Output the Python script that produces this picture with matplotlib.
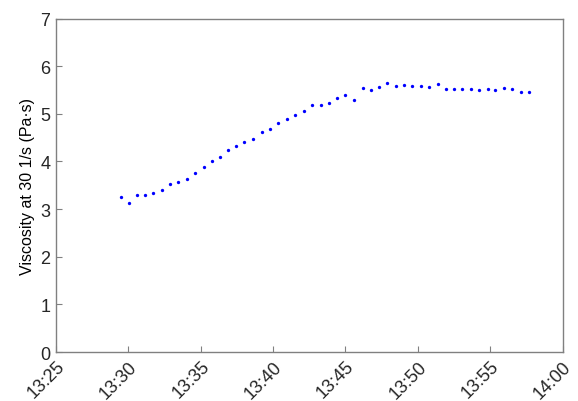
import matplotlib
matplotlib.use("Agg")
import matplotlib.pyplot as plt
import matplotlib.dates as mdates
from datetime import datetime

times = ["13:29:28", "13:30:03", "13:30:36", "13:31:10", "13:31:43", "13:32:18",
         "13:32:51", "13:33:26", "13:34:03", "13:34:38", "13:35:12", "13:35:46",
         "13:36:20", "13:36:53", "13:37:28", "13:38:01", "13:38:38", "13:39:13",
         "13:39:47", "13:40:22", "13:40:57", "13:41:32", "13:42:07", "13:42:42",
         "13:43:18", "13:43:52", "13:44:25", "13:45:00", "13:45:36", "13:46:11",
         "13:46:45", "13:47:19", "13:47:54", "13:48:29", "13:49:04", "13:49:37",
         "13:50:12", "13:50:47", "13:51:24", "13:51:56", "13:52:32", "13:53:03",
         "13:53:40", "13:54:14", "13:54:51", "13:55:22", "13:55:59", "13:56:32",
         "13:57:07", "13:57:41"]
viscosity = [3.26, 3.12, 3.30, 3.30, 3.34, 3.40, 3.53, 3.56, 3.64, 3.76,
             3.88, 4.00, 4.09, 4.23, 4.32, 4.41, 4.48, 4.62, 4.68, 4.80,
             4.89, 4.97, 5.06, 5.19, 5.19, 5.23, 5.33, 5.40, 5.28, 5.55,
             5.50, 5.56, 5.64, 5.58, 5.60, 5.58, 5.58, 5.56, 5.63, 5.53,
             5.51, 5.53, 5.51, 5.50, 5.51, 5.49, 5.55, 5.51, 5.45, 5.45]
xtick_labels = ["13:25", "13:30", "13:35", "13:40", "13:45", "13:50", "13:55", "14:00"]
yticks = [0, 1, 2, 3, 4, 5, 6, 7]

base = "2000-01-01 "
t = [datetime.strptime(base + s, "%Y-%m-%d %H:%M:%S") for s in times]
xt = [datetime.strptime(base + s, "%Y-%m-%d %H:%M") for s in xtick_labels]

plt.rcParams['font.family'] = ['Liberation Sans', 'DejaVu Sans']

fig = plt.figure(figsize=(5.78, 4.02), dpi=100)
ax = fig.add_axes([56/578, 1-353/402, (562.5-56)/578, (353-19.5)/402])
ax.plot(t, viscosity, linestyle='none', marker='o', markersize=2.4,
        color='#0000ff', markeredgewidth=0)

ax.set_xlim(xt[0], xt[-1])
ax.set_ylim(0, 7)
ax.set_xticks(xt)
ax.set_xticklabels(xtick_labels, rotation=45, ha='right', va='top',
                   rotation_mode='anchor', fontsize=13)
ax.set_yticks(yticks)
ax.set_yticklabels([str(v) for v in yticks], fontsize=13)
ax.set_ylabel("Viscosity at 30 1/s (Pa·s)", fontsize=11.5, labelpad=4)

for sp in ax.spines.values():
    sp.set_color('#808080')
    sp.set_linewidth(1.0)
ax.tick_params(direction='in', length=4, color='#808080', labelcolor='#262626',
               top=False, right=False, pad=4)

fig.savefig("out.png", dpi=100)
